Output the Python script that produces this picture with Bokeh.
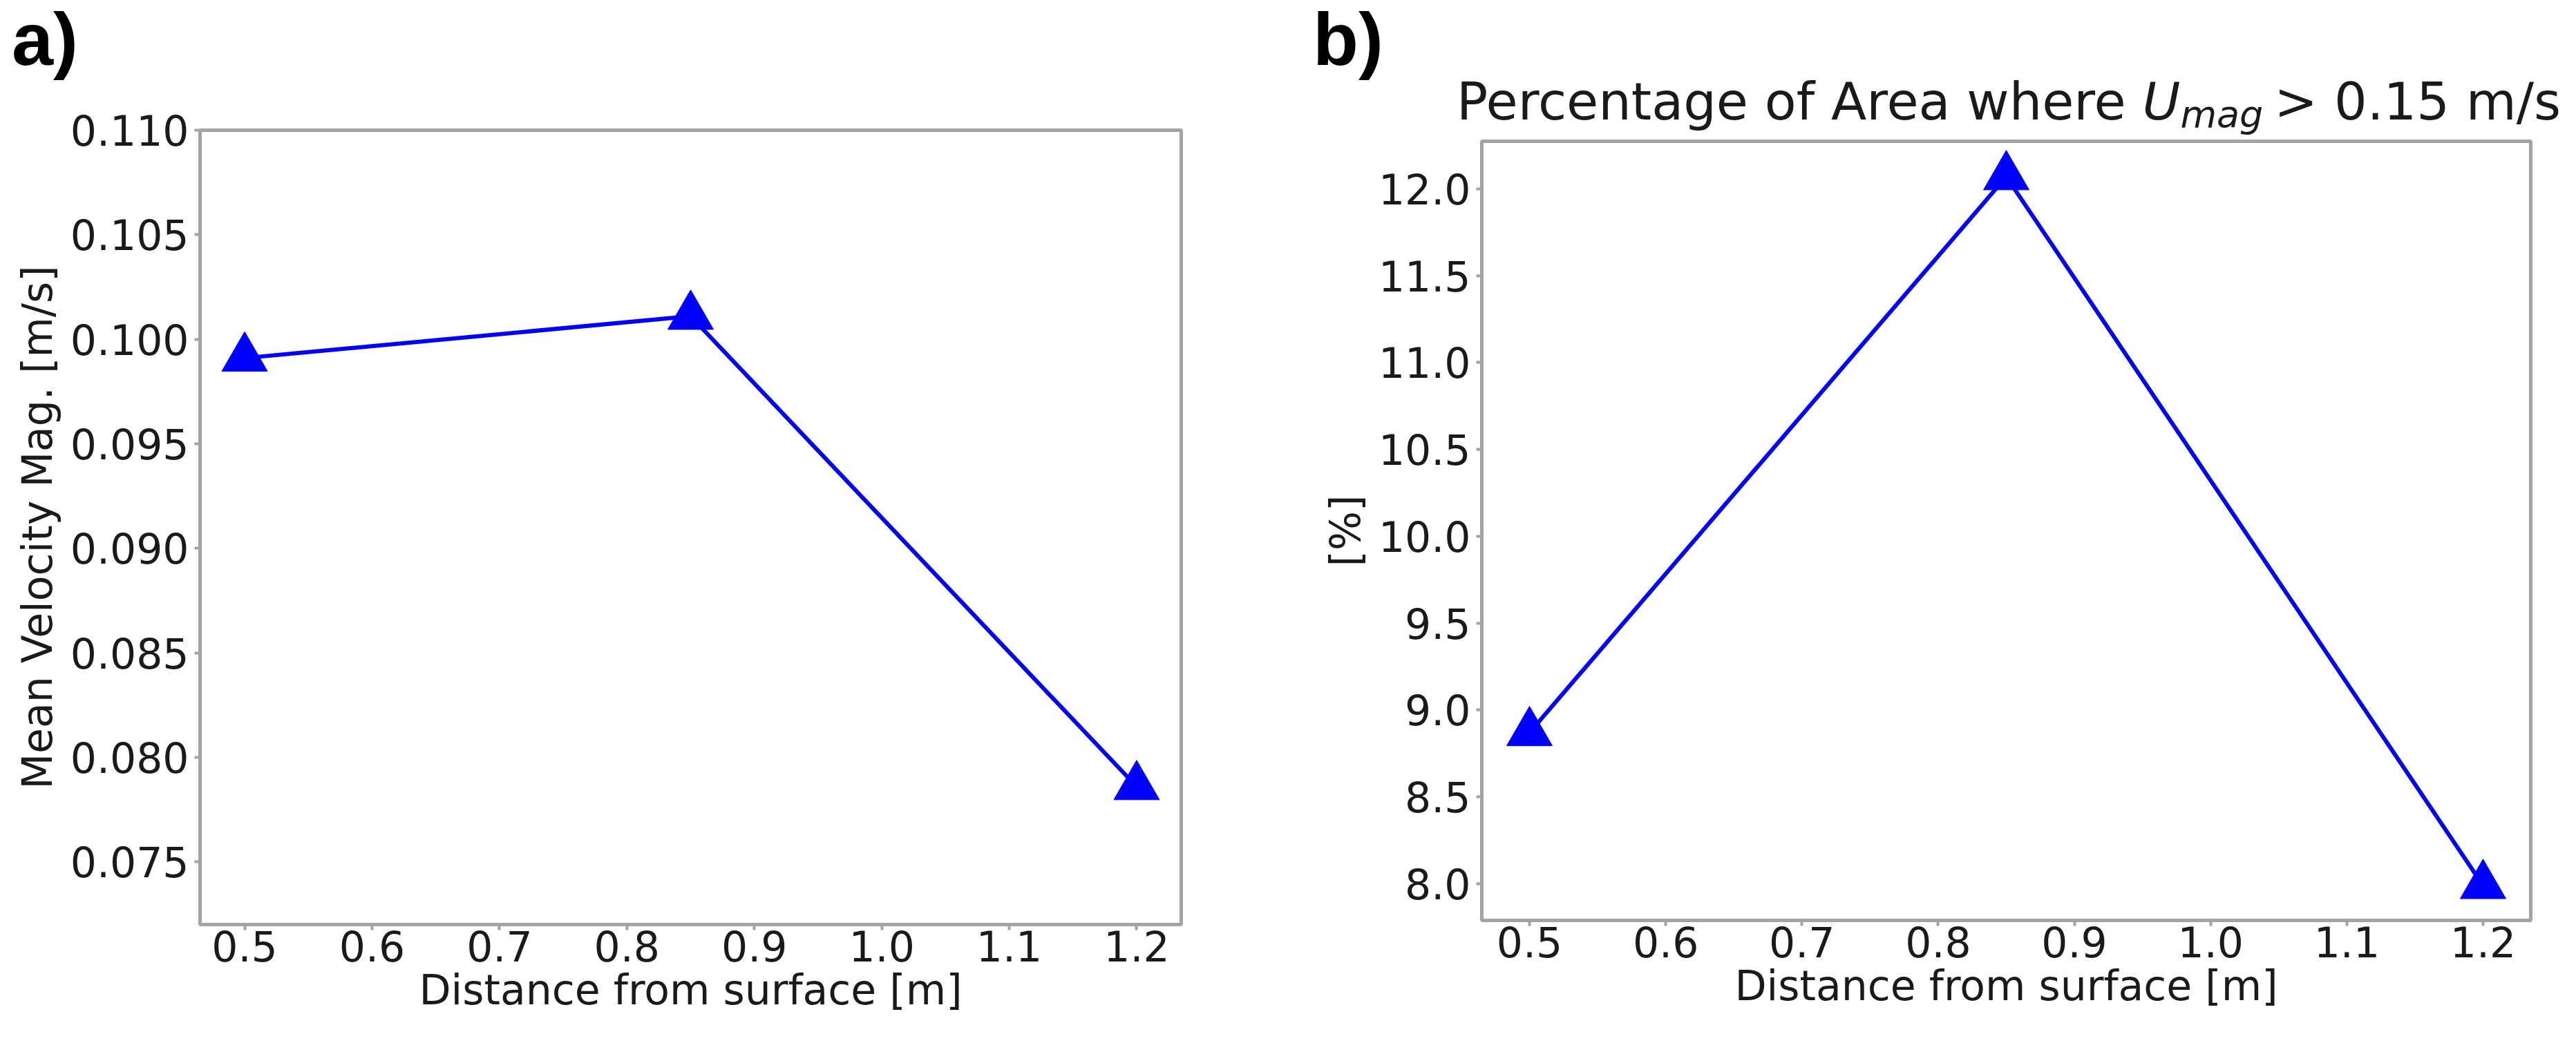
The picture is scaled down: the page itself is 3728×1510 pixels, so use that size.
from bokeh.plotting import figure
from bokeh.models import FixedTicker, Range1d, Div
from bokeh.layouts import row, column
from bokeh.embed import file_html
from bokeh.resources import INLINE

# ---------------- data ----------------
distance = [0.5, 0.85, 1.2]
mean_velocity = [0.0991, 0.1011, 0.0786]
area_pct = [8.87, 12.07, 7.99]

x_ticks = [0.5, 0.6, 0.7, 0.8, 0.9, 1.0, 1.1, 1.2]
x_tick_labels = ["0.5", "0.6", "0.7", "0.8", "0.9", "1.0", "1.1", "1.2"]
ya_ticks = [0.075, 0.080, 0.085, 0.090, 0.095, 0.100, 0.105, 0.110]
ya_tick_labels = ["0.075", "0.080", "0.085", "0.090", "0.095", "0.100", "0.105", "0.110"]
yb_ticks = [8.0, 8.5, 9.0, 9.5, 10.0, 10.5, 11.0, 11.5, 12.0]
yb_tick_labels = ["8.0", "8.5", "9.0", "9.5", "10.0", "10.5", "11.0", "11.5", "12.0"]

x_label = "Distance from surface [m]"
ya_label = "Mean Velocity Mag. [m/s]"
yb_label = "[%]"
panel_a_tag = "a)"
panel_b_tag = "b)"
title_main = "Percentage of Area where"
title_var = "U"
title_sub = "mag"
title_rest = "&gt; 0.15 m/s"

BLUE = "#0000ff"
SPINE = "#a3a3a3"
TXT = "#1a1a1a"
FONT = "DejaVu Sans"
FS = "60px"


def style(p):
    p.outline_line_color = SPINE
    p.outline_line_width = 5
    p.background_fill_color = "white"
    p.border_fill_color = "white"
    p.xgrid.visible = False
    p.ygrid.visible = False
    for ax in (p.xaxis[0], p.yaxis[0]):
        ax.axis_line_color = None
        ax.major_tick_line_color = SPINE
        ax.major_tick_line_width = 4
        ax.major_tick_out = 8
        ax.major_tick_in = 0
        ax.minor_tick_line_color = None
        ax.major_label_text_font = FONT
        ax.major_label_text_font_size = FS
        ax.major_label_text_color = TXT
        ax.axis_label_text_font = FONT
        ax.axis_label_text_font_size = FS
        ax.axis_label_text_font_style = "normal"
        ax.axis_label_text_color = TXT
    p.xaxis[0].major_label_standoff = 0
    p.xaxis[0].axis_label_standoff = 3
    p.yaxis[0].major_label_standoff = 8
    p.yaxis[0].axis_label_standoff = 10


def tag_span(text, left, top):
    return ('<span style="position:absolute;left:%dpx;top:%dpx;font-family:\'Liberation Sans\';'
            'font-weight:bold;font-size:108px;line-height:108px;color:#000;white-space:nowrap;">%s</span>'
            % (left, top, text))


# ---------------- panel a ----------------
head_a_html = ('<div style="position:relative;width:1900px;height:148px;margin:0;padding:0;">'
               + tag_span(panel_a_tag, 17, 3) + '</div>')
ha = Div(text=head_a_html, width=1900, height=148, margin=0)

pa = figure(frame_width=1420, frame_height=1150, title_location=None,
            min_border_left=289, min_border_right=191,
            min_border_top=40, min_border_bottom=150,
            x_range=Range1d(0.465, 1.235), y_range=Range1d(0.072, 0.110),
            output_backend="svg", toolbar_location=None)
style(pa)
pa.xaxis[0].ticker = FixedTicker(ticks=x_ticks)
pa.xaxis[0].major_label_overrides = dict(zip(x_ticks, x_tick_labels))
pa.yaxis[0].ticker = FixedTicker(ticks=ya_ticks)
pa.yaxis[0].major_label_overrides = dict(zip(ya_ticks, ya_tick_labels))
pa.xaxis[0].axis_label = x_label
pa.yaxis[0].axis_label = ya_label
pa.line(distance, mean_velocity, line_color=BLUE, line_width=6)
pa.scatter(distance, mean_velocity, marker="triangle", size=66,
           fill_color=BLUE, line_color=BLUE)

# ---------------- panel b ----------------
title_html = ('<span style="position:absolute;left:208px;top:110px;font-family:\'DejaVu Sans\';'
              'font-size:75px;line-height:75px;color:%s;white-space:nowrap;">'
              '%s <i>%s</i><i style="font-size:54px;position:relative;top:11px;">%s</i>'
              '<span style="margin-left:-8px;"> %s</span></span>'
              % (TXT, title_main, title_var, title_sub, title_rest))
head_b_html = ('<div style="position:relative;width:1812px;height:200px;margin:0;padding:0;">'
               + tag_span(panel_b_tag, 0, 3) + title_html + '</div>')
hb = Div(text=head_b_html, width=1812, height=200, margin=0)

pb = figure(frame_width=1518, frame_height=1128, title_location=None,
            min_border_left=244, min_border_right=50,
            min_border_top=4, min_border_bottom=150,
            x_range=Range1d(0.465, 1.235), y_range=Range1d(7.789, 12.274),
            output_backend="svg", toolbar_location=None)
style(pb)
pb.xaxis[0].ticker = FixedTicker(ticks=x_ticks)
pb.xaxis[0].major_label_overrides = dict(zip(x_ticks, x_tick_labels))
pb.yaxis[0].ticker = FixedTicker(ticks=yb_ticks)
pb.yaxis[0].major_label_overrides = dict(zip(yb_ticks, yb_tick_labels))
pb.xaxis[0].axis_label = x_label
pb.yaxis[0].axis_label = yb_label
pb.line(distance, area_pct, line_color=BLUE, line_width=6)
pb.scatter(distance, area_pct, marker="triangle", size=66,
           fill_color=BLUE, line_color=BLUE)

layout = row(column(ha, pa, spacing=0), column(hb, pb, spacing=0), spacing=0)
open("out.html", "w").write(file_html(layout, INLINE))
